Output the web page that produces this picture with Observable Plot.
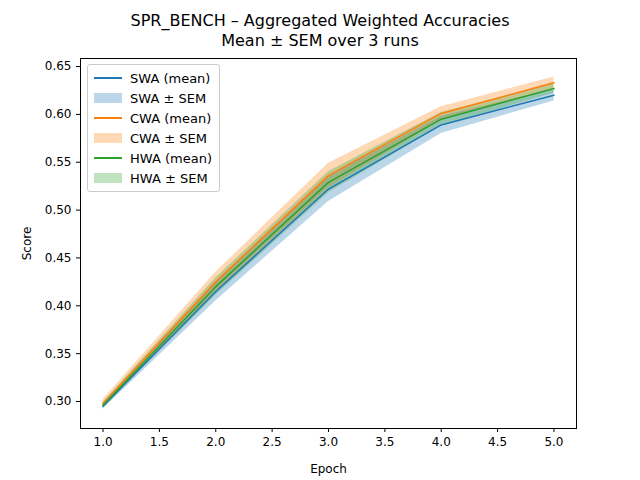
<!DOCTYPE html>
<html><head><meta charset="utf-8">
<script src="https://cdn.jsdelivr.net/npm/d3@7"></script>
<script src="https://cdn.jsdelivr.net/npm/@observablehq/plot@0.6"></script>
<style>
body{margin:0;font-family:"DejaVu Sans",sans-serif;background:#fff}
#wrap{position:relative;width:640px;height:480px}
#title{height:56px;text-align:center;font-size:16px;line-height:20px;padding-top:11px;box-sizing:border-box}
#legend{position:absolute;left:87px;top:64px;border:1px solid #ccc;border-radius:3px;background:#fff;padding:3px 7px 3px 6px;font-size:13px}
#legend div{display:flex;align-items:center;height:20px}
#legend span.s{display:inline-block;width:28px;margin-right:8px}
</style></head><body>
<div id="wrap">
<div id="title">SPR_BENCH – Aggregated Weighted Accuracies<br>Mean ± SEM over 3 runs</div>
<div id="chart"></div>
<div id="legend"></div>
</div>
<script>
const epochs = [1, 2, 3, 4, 5];
const swaMean = [0.295, 0.415, 0.522, 0.589, 0.620];
const swaSem  = [0.003, 0.010, 0.013, 0.009, 0.006];
const cwaMean = [0.298, 0.425, 0.536, 0.601, 0.633];
const cwaSem  = [0.004, 0.010, 0.013, 0.007, 0.006];
const hwaMean = [0.296, 0.420, 0.529, 0.595, 0.627];
const hwaSem  = [0.003, 0.009, 0.011, 0.007, 0.005];

const series = [
  {name: "SWA", mean: swaMean, sem: swaSem, color: "#1f77b4"},
  {name: "CWA", mean: cwaMean, sem: cwaSem, color: "#ff7f0e"},
  {name: "HWA", mean: hwaMean, sem: hwaSem, color: "#2ca02c"}
];

const marks = [Plot.frame({stroke: "#000"})];
series.forEach(s => {
  const rows = epochs.map((e, i) => ({epoch: e, mean: s.mean[i], lo: s.mean[i] - s.sem[i], hi: s.mean[i] + s.sem[i]}));
  marks.push(Plot.areaY(rows, {x: "epoch", y1: "lo", y2: "hi", fill: s.color, fillOpacity: 0.3}));
});
series.forEach(s => {
  const rows = epochs.map((e, i) => ({epoch: e, mean: s.mean[i]}));
  marks.push(Plot.lineY(rows, {x: "epoch", y: "mean", stroke: s.color, strokeWidth: 1.5}));
});

const chart = Plot.plot({
  width: 640, height: 424,
  marginTop: 2, marginBottom: 52, marginLeft: 80, marginRight: 64,
  style: {fontSize: "12px", fontFamily: "DejaVu Sans, sans-serif", color: "#000"},
  x: {domain: [0.8, 5.2], ticks: d3.range(1, 5.01, 0.5), tickFormat: d3.format(".1f"), label: "Epoch", labelAnchor: "center", labelArrow: "none", labelOffset: 44, tickSize: 4},
  y: {domain: [0.2718, 0.6584], ticks: d3.range(0.30, 0.651, 0.05), tickFormat: d3.format(".2f"), label: "Score", labelAnchor: "center", labelArrow: "none", labelOffset: 58, tickSize: 4},
  marks
});
document.getElementById("chart").append(chart);

const lg = document.getElementById("legend");
series.forEach(s => {
  lg.innerHTML += `<div><span class="s" style="height:2px;background:${s.color}"></span>${s.name} (mean)</div>`;
  lg.innerHTML += `<div><span class="s" style="height:10px;background:${s.color};opacity:0.3"></span>${s.name} ± SEM</div>`;
});
</script>
</body></html>
